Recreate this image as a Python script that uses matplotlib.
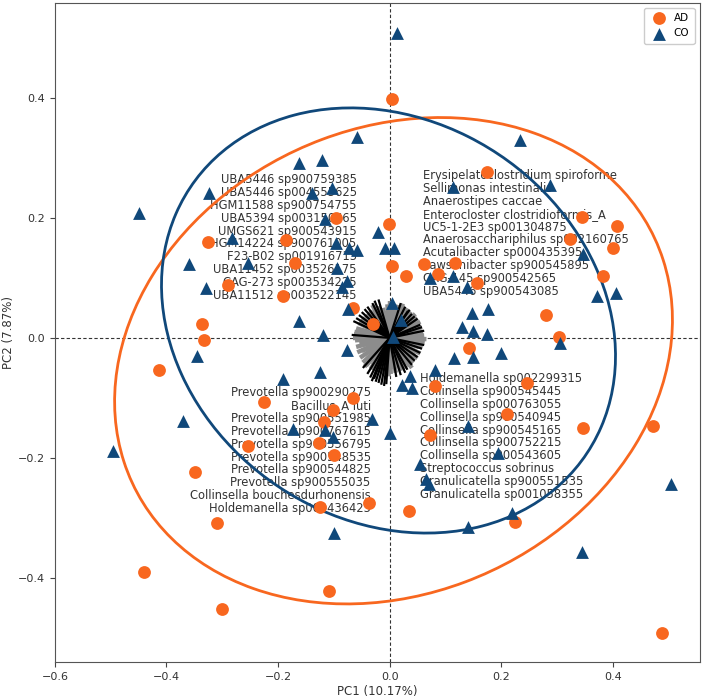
"""PCA biplot of AD vs CO samples with species loadings."""

import numpy as np
import matplotlib
matplotlib.use("Agg")
import matplotlib.pyplot as plt
from matplotlib.patches import Ellipse

# sample scores (PC1, PC2)
ad_pc1 = [-0.097, -0.326, -0.185, -0.170, -0.290, -0.192, -0.066, -0.337, -0.332, 0.004,
          0.175, 0.345, 0.408, -0.002, 0.324, 0.401, 0.004, 0.061, 0.118, 0.030,
          0.086, 0.156, 0.382, -0.029, 0.280, 0.303, 0.142, 0.082, 0.247, 0.210,
          0.073, 0.346, 0.473, -0.037, 0.034, 0.225, 0.488, -0.414, -0.226, -0.066,
          -0.102, -0.118, -0.254, -0.127, -0.099, -0.349, -0.124, -0.310, -0.441, -0.109,
          -0.300]
ad_pc2 = [0.200, 0.160, 0.163, 0.125, 0.088, 0.070, 0.050, 0.023, -0.003, 0.398,
          0.277, 0.202, 0.187, 0.190, 0.165, 0.150, 0.120, 0.123, 0.125, 0.103,
          0.107, 0.092, 0.103, 0.023, 0.038, 0.002, -0.017, -0.080, -0.075, -0.127,
          -0.162, -0.150, -0.147, -0.275, -0.288, -0.307, -0.492, -0.053, -0.107, -0.100,
          -0.120, -0.140, -0.180, -0.175, -0.195, -0.223, -0.282, -0.308, -0.390, -0.422,
          -0.452]

co_pc1 = [-0.450, -0.323, -0.163, -0.122, -0.059, -0.140, -0.104, -0.116, -0.283, -0.097,
          -0.072, -0.059, -0.360, -0.253, -0.095, -0.330, -0.086, -0.077, -0.075, -0.163,
          -0.120, -0.077, 0.013, 0.233, 0.113, 0.287, -0.020, -0.009, 0.007, 0.346,
          0.072, 0.113, 0.138, 0.371, 0.405, 0.004, 0.020, 0.006, 0.147, 0.176,
          0.129, 0.149, 0.174, 0.306, 0.116, 0.150, 0.199, 0.082, 0.036, 0.022,
          0.041, 0.140, -0.031, 0.000, 0.194, 0.055, 0.066, 0.070, 0.505, 0.219,
          0.140, 0.344, -0.346, -0.192, -0.125, -0.371, -0.174, -0.116, -0.102, -0.495,
          -0.099]
co_pc2 = [0.208, 0.242, 0.292, 0.297, 0.335, 0.242, 0.250, 0.198, 0.167, 0.158,
          0.150, 0.147, 0.123, 0.125, 0.117, 0.083, 0.085, 0.095, 0.048, 0.028,
          0.005, -0.020, 0.508, 0.329, 0.251, 0.255, 0.177, 0.150, 0.150, 0.140,
          0.100, 0.103, 0.085, 0.070, 0.075, 0.058, 0.030, 0.002, 0.042, 0.048,
          0.018, 0.012, 0.007, -0.008, -0.034, -0.031, -0.025, -0.054, -0.063, -0.078,
          -0.083, -0.147, -0.135, -0.158, -0.192, -0.210, -0.235, -0.243, -0.243, -0.292,
          -0.315, -0.357, -0.030, -0.068, -0.057, -0.138, -0.152, -0.153, -0.165, -0.188,
          -0.325]

# confidence ellipses: centre and spread matrix [sxx, syy, sxy]
ad_center = (0.007, -0.038)
ad_spread = (0.250, 0.164, 0.034)
co_center = (-0.002, 0.029)
co_spread = (0.1656, 0.1253, -0.024)

# species loadings (minor ones grey, top ones black)
grey_pc1 = [0.062, 0.058, 0.055, 0.050, 0.046, 0.038, 0.031, 0.022, 0.015, 0.006,
            -0.004, -0.012, -0.020, -0.028, -0.036, -0.043, -0.050, -0.056, -0.060, -0.064,
            -0.062, -0.060, -0.058, -0.053, -0.048, -0.042, -0.034, -0.026, -0.017, -0.008,
            0.002, 0.011, 0.020, 0.028, 0.036, 0.043, 0.050, 0.055, 0.059, 0.063,
            0.052, 0.047, 0.040, 0.027, 0.012, -0.006, -0.022, -0.037, -0.048, -0.055,
            -0.054, -0.050, -0.040, -0.030, -0.014, 0.004, 0.019, 0.033, 0.045, 0.052,
            0.066, 0.060, -0.066, -0.063, 0.000, -0.002, 0.024, -0.031, -0.045, 0.040]
grey_pc2 = [0.004, 0.018, 0.027, 0.033, 0.040, 0.044, 0.050, 0.048, 0.055, 0.052,
            0.056, 0.050, 0.053, 0.047, 0.045, 0.038, 0.033, 0.025, 0.016, 0.006,
            -0.004, -0.015, -0.024, -0.033, -0.041, -0.046, -0.052, -0.056, -0.058, -0.061,
            -0.060, -0.058, -0.055, -0.052, -0.047, -0.041, -0.034, -0.026, -0.016, -0.007,
            0.010, 0.024, 0.035, 0.041, 0.046, 0.044, 0.041, 0.033, 0.022, 0.010,
            -0.010, -0.022, -0.035, -0.045, -0.050, -0.052, -0.047, -0.040, -0.030, -0.015,
            -0.002, 0.010, 0.000, 0.010, 0.061, -0.064, 0.057, 0.055, -0.048, -0.050]

black_pc1 = [-0.027, -0.020, -0.031, -0.045, -0.055, -0.050, -0.065, -0.068, -0.040, -0.060,
             0.036, 0.040, 0.050, 0.028, 0.055, 0.020, 0.045, 0.062, 0.033, 0.058,
             -0.032, -0.020, -0.015, -0.040, -0.025, -0.010, -0.048, -0.035, -0.006, -0.028,
             0.032, 0.040, 0.055, 0.062, 0.045, 0.020, 0.012, 0.050, 0.058, 0.028]
black_pc2 = [0.062, 0.064, 0.058, 0.048, 0.038, 0.043, 0.028, 0.005, 0.052, 0.033,
             0.047, 0.040, 0.032, 0.052, 0.022, 0.058, 0.036, 0.012, 0.045, 0.018,
             -0.072, -0.075, -0.078, -0.060, -0.073, -0.080, -0.050, -0.066, -0.077, -0.068,
             -0.053, -0.045, -0.025, -0.012, -0.038, -0.062, -0.065, -0.032, -0.018, -0.058]

labels_upper_left = [
    "UBA5446 sp900759385", "UBA5446 sp004555625", "HGM11588 sp900754755",
    "UBA5394 sp003150665", "UMGS621 sp900543915", "HGM14224 sp900761005",
    "F23-B02 sp001916715", "UBA11452 sp003526175", "CAG-273 sp003534225",
    "UBA11512 sp003522145",
]
labels_upper_right = [
    "Erysipelatoclostridium spiroforme", "Sellimonas intestinalis", "Anaerostipes caccae",
    "Enterocloster clostridioformis_A", "UC5-1-2E3 sp001304875",
    "Anaerosacchariphilus sp002160765", "Acutalibacter sp000435395",
    "Lawsonibacter sp900545895", "CAG-145 sp900542565", "UBA5446 sp900543085",
]
labels_lower_left = [
    "Prevotella sp900290275", "Bacillus_A luti", "Prevotella sp900551985",
    "Prevotella sp900767615", "Prevotella sp900556795", "Prevotella sp900548535",
    "Prevotella sp900544825", "Prevotella sp900555035", "Collinsella bouchesdurhonensis",
    "Holdemanella sp000436425",
]
labels_lower_right = [
    "Holdemanella sp002299315", "Collinsella sp900545445", "Collinsella sp000763055",
    "Collinsella sp900540945", "Collinsella sp900545165", "Collinsella sp900752215",
    "Collinsella sp900543605", "Streptococcus sobrinus", "Granulicatella sp900551535",
    "Granulicatella sp001058355",
]

AD_COLOR = "#f8671f"
CO_COLOR = "#10487a"


def conf_ellipse(center, spread, color):
    sxx, syy, sxy = spread
    vals, vecs = np.linalg.eigh(np.array([[sxx, sxy], [sxy, syy]]))
    angle = np.degrees(np.arctan2(vecs[1, 1], vecs[0, 1]))
    return Ellipse(center, 2 * np.sqrt(vals[1]), 2 * np.sqrt(vals[0]), angle=angle,
                   fill=False, edgecolor=color, linewidth=2.0, zorder=4)


fig = plt.figure(figsize=(7.04, 7.0), dpi=100)
ax = fig.add_axes([0.078, 0.054, 0.916, 0.942])

ax.axhline(0, color="#333333", linestyle=(0, (3, 2)), linewidth=0.8, zorder=1)
ax.axvline(0, color="#333333", linestyle=(0, (3, 2)), linewidth=0.8, zorder=1)

for x, y in zip(grey_pc1, grey_pc2):
    ax.plot([0, x], [0, y], color="#8c8c8c", linewidth=3.2, solid_capstyle="butt", zorder=2)
for x, y in zip(black_pc1, black_pc2):
    ax.plot([0, x], [0, y], color="black", linewidth=1.6, solid_capstyle="butt", zorder=3)

text_kw = dict(fontsize=8.3, color="#333333", va="center", zorder=2.5)
step = 0.02135
for i, name in enumerate(labels_upper_left):
    ax.text(-0.059, 0.2633 - i * step, name, ha="right", **text_kw)
for i, name in enumerate(labels_upper_right):
    ax.text(0.059, 0.270 - i * step, name, ha="left", **text_kw)
for i, name in enumerate(labels_lower_left):
    ax.text(-0.034, -0.0917 - i * step, name, ha="right", **text_kw)
for i, name in enumerate(labels_lower_right):
    ax.text(0.054, -0.068 - i * step, name, ha="left", **text_kw)

ax.add_patch(conf_ellipse(ad_center, ad_spread, AD_COLOR))
ax.add_patch(conf_ellipse(co_center, co_spread, CO_COLOR))

ax.scatter(ad_pc1, ad_pc2, s=85, marker="o", color=AD_COLOR, linewidths=0, label="AD", zorder=5)
ax.scatter(co_pc1, co_pc2, s=85, marker="^", color=CO_COLOR, linewidths=0, label="CO", zorder=5)

ax.set_xlim(-0.6, 0.556)
ax.set_ylim(-0.54, 0.558)
ax.set_xticks([-0.6, -0.4, -0.2, 0.0, 0.2, 0.4])
ax.set_yticks([-0.4, -0.2, 0.0, 0.2, 0.4])
ax.tick_params(labelsize=8, color="#444444", labelcolor="#333333")
for spine in ax.spines.values():
    spine.set_color("#555555")
ax.set_xlabel("PC1 (10.17%)", fontsize=8.5, color="#333333", labelpad=2)
ax.set_ylabel("PC2 (7.87%)", fontsize=8.5, color="#333333", labelpad=2)
ax.legend(loc="upper right", fontsize=7.5, borderpad=0.5, handletextpad=0.4, framealpha=1)

fig.savefig("out.png", dpi=100)
